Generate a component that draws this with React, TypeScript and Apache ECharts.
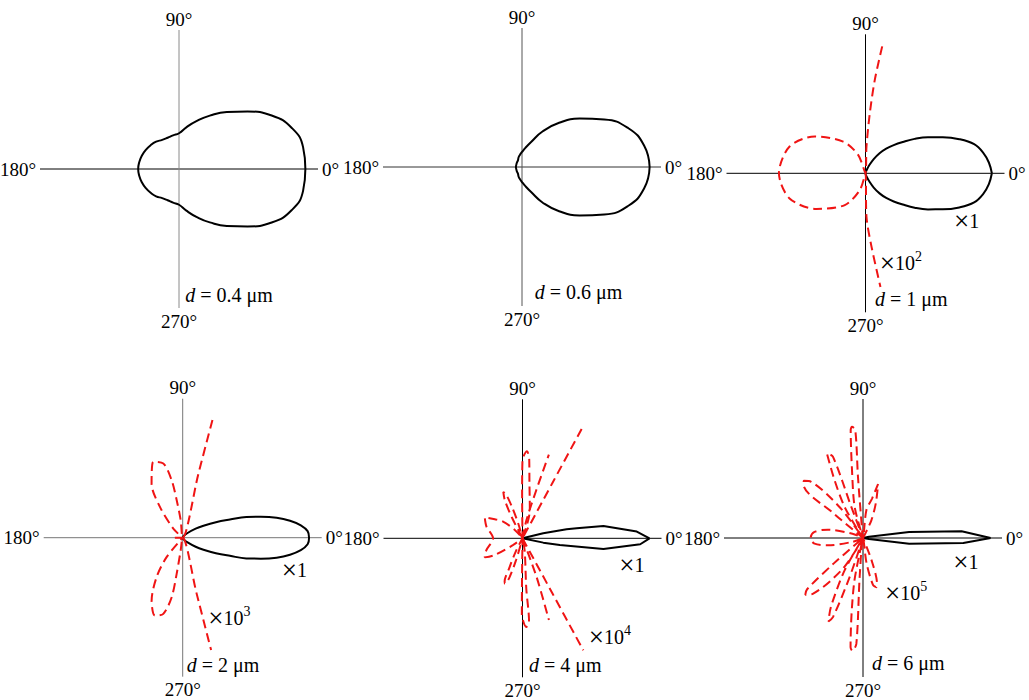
import React, { useEffect, useRef } from "react";
import * as echarts from "echarts";

const FONT = "Liberation Serif";

// ---------- text data ----------
const D_LABELS = ["0.4 μm", "0.6 μm", "1 μm", "2 μm", "4 μm", "6 μm"];
const RED_POWER = ["", "", "2", "3", "4", "5"];

// ---------- black (×1) patterns: upper half, mirrored about 0° ----------
const P1_ANG = [0, 10, 20, 30, 40, 50, 60, 70, 80, 90, 100, 110, 120, 130, 140, 150, 160, 170, 180];
const P1_R = [1.0, 0.997, 0.95, 0.847, 0.708, 0.589, 0.488, 0.403, 0.335, 0.283, 0.27, 0.263, 0.266, 0.282, 0.293, 0.303, 0.312, 0.319, 0.323];

const P2_ANG = [0, 10, 20, 30, 40, 50, 60, 70, 80, 90, 100, 110, 120, 135, 150, 165, 180];
const P2_R = [1.01, 0.981, 0.896, 0.752, 0.596, 0.457, 0.324, 0.211, 0.154, 0.119, 0.097, 0.08, 0.063, 0.055, 0.05, 0.048, 0.048];

const P3_ANG = [0, 5, 10, 15, 20, 25, 30, 35, 40, 45, 50, 55, 60, 65, 70, 80, 90];
const P3_R = [1.0, 0.98, 0.945, 0.89, 0.79, 0.675, 0.571, 0.475, 0.385, 0.316, 0.255, 0.194, 0.13, 0.07, 0.03, 0.005, 0];

const P4_ANG = [0, 3, 6, 9, 12, 15, 18, 21, 25, 30, 35, 45, 60, 90];
const P4_R = [1.0, 0.99, 0.94, 0.86, 0.76, 0.64, 0.53, 0.4, 0.29, 0.19, 0.125, 0.05, 0.015, 0];

// polygon-like black patterns (full outline, [radius, angle])
const P5_BLACK = [
  [1.005, 0], [0.906, 3.4], [0.648, 8.7], [0.436, 10.5], [0.356, 11.6], [0.169, 13.6], [0, 20],
  [0, 345], [0.168, 348.2], [0.3, 349.9], [0.646, 352.5], [0.933, 357.1], [1.005, 360],
];
const P6_BLACK = [
  [1.01, 0], [0.782, 3.9], [0.368, 7.4], [0.049, 12.5], [0, 20],
  [0, 345], [0.048, 350.5], [0.368, 353], [0.795, 357.1], [1.01, 360],
];

// ---------- red dashed (scaled) patterns: branches of [radius, angle] ----------
const P3_RED = [
  [
    [1.013, 82.5], [0.745, 84.3], [0.477, 85.9], [0.212, 87.9], [0, 90],
    [0.157, 111.8], [0.307, 125.2], [0.496, 144], [0.637, 160.6], [0.685, 180],
    [0.633, 198.3], [0.48, 216], [0.3, 236.9], [0.14, 251.2], [0, 270],
    [0.344, 271.3], [0.584, 274.7], [0.907, 277.5],
  ],
];

const P4_RED = [
  [
    [0.96, 75.8], [0.52, 76.2], [0, 77],
    [0.138, 96.6], [0.3, 99.1], [0.463, 100.9], [0.607, 104.6], [0.644, 111.2],
    [0.494, 119.9], [0.303, 126.5], [0.103, 136], [0, 150],
    [0.074, 180], [0, 210],
    [0.2, 230.4], [0.374, 236.5], [0.555, 243.7], [0.654, 250.4],
    [0.622, 255.7], [0.479, 259.5], [0.29, 260.5], [0.1, 261], [0, 262],
    [0.45, 284], [0.917, 284.2],
  ],
];

const P5_RED = [
  [
    [0.984, 61.6], [0.5, 61.6], [0, 62],
    [0.232, 75.5], [0.45, 83], [0.624, 85.1], [0.689, 87], [0.62, 90], [0.35, 90.5], [0, 91],
    [0.12, 106], [0.26, 108.5], [0.37, 110.5], [0.397, 112.5], [0.33, 115], [0.18, 117], [0, 122],
    [0.09, 132.6], [0.203, 139.2], [0.266, 145.5], [0.342, 151], [0.3, 162], [0.233, 180],
    [0.3, 198], [0.335, 206.8], [0.256, 211], [0.09, 215.5], [0, 225],
    [0.12, 243], [0.26, 246], [0.37, 247.5], [0.386, 249], [0.33, 251.5], [0.18, 253.5], [0, 257],
    [0, 268], [0.3, 269.3], [0.6, 269.5], [0.702, 272.5], [0.66, 274.5], [0.4, 274.3], [0.1, 280], [0, 285],
    [0.5, 298.5], [1.009, 298.5],
  ],
  [[0, 78], [0.15, 77.7], [0.4, 74], [0.694, 72.5]],
  [[0, 292], [0.324, 290], [0.68, 287.9]],
];

const P6_RED = [
  [
    [0, 62], [0.155, 64.7], [0.3, 70], [0.443, 74.4], [0.32, 77.1], [0.221, 83.1], [0, 88],
    [0.14, 95.4], [0.486, 94.7], [0.857, 94.1], [0.885, 95.7], [0.86, 96.5], [0.544, 99.2], [0.255, 105], [0, 108],
    [0.263, 110.6], [0.686, 110.3], [0.728, 113.1], [0.51, 116.2], [0.286, 120.6], [0.073, 123], [0, 125],
    [0.3, 127], [0.605, 132.7], [0.651, 136], [0.633, 138], [0.296, 140], [0, 145],
    [0.09, 158], [0.285, 166.6], [0.387, 172.9], [0.415, 180], [0.386, 186.7], [0.284, 191.8], [0.09, 200], [0, 212],
    [0.303, 221], [0.6, 222.5], [0.64, 224.5], [0.594, 228], [0.309, 236.2], [0.08, 241], [0, 239],
    [0.295, 240.4], [0.6, 245], [0.715, 247.5], [0.67, 249.2], [0.327, 251.1], [0, 255],
    [0.37, 258.9], [0.87, 263.5], [0.896, 264.6], [0.84, 266.4], [0.31, 265.1], [0, 268],
    [0.2, 278], [0.38, 282], [0.403, 285.2], [0.38, 287], [0.19, 291], [0, 295],
  ],
];

// ---------- layout / style ----------
const CENTERS = [
  [179, 169], [522, 167], [865.5, 173.3],
  [182.7, 537.7], [522.5, 538.3], [863, 538],
];
const RADIUS_PX = 139;
const R_MAX = 1.1;
const AXIS_COLORS = [
  ["#000", "#8a8a8a"], ["#333", "#555"], ["#000", "#000"],
  ["#777", "#777"], ["#000", "#000"], ["#000", "#000"],
];
const D_POS = [[185.3, 295], [534.7, 291.7], [875, 299], [186.7, 665], [529, 665], [872, 663]];
const X1_POS = [null, null, [955, 220.7], [282.7, 570], [620.3, 565], [954.3, 562.3]];
const XP_POS = [null, null, [880.7, 263], [209.3, 618.3], [589.7, 637.3], [886, 593.3]];

function mirrored(ang: number[], r: number[]) {
  const out: number[][] = ang.map((a, i) => [r[i], a]);
  for (let i = ang.length - 2; i >= 0; i--) out.push([r[i], 360 - ang[i]]);
  return out;
}
// polar reading [radius, angle°] -> cartesian [x, y] for the panel's value axes
function toXY(pts: number[][]) {
  return pts.map(([r, a]) => [r * Math.cos((a * Math.PI) / 180), r * Math.sin((a * Math.PI) / 180)]);
}

const BLACK = [
  { data: mirrored(P1_ANG, P1_R), smooth: 0.5 },
  { data: mirrored(P2_ANG, P2_R), smooth: 0.5 },
  { data: mirrored(P3_ANG, P3_R), smooth: 0.4 },
  { data: mirrored(P4_ANG, P4_R), smooth: 0.4 },
  { data: P5_BLACK, smooth: false },
  { data: P6_BLACK, smooth: false },
];
const RED = [[], [], P3_RED, P4_RED, P5_RED, P6_RED];

export default function App() {
  const ref = useRef<HTMLDivElement>(null);
  useEffect(() => {
    if (!ref.current) return;
    const chart = echarts.init(ref.current, undefined, { renderer: "svg" });
    const txt = { fontFamily: FONT, fontSize: 19, color: "#000" };

    // polar frames: the crossing axis lines and their angle labels
    const polar = CENTERS.map((c) => ({ center: [c[0], c[1]], radius: RADIUS_PX }));
    const angleAxis = CENTERS.map((_, i) => ({
      polarIndex: i,
      type: "value",
      min: 0,
      max: 360,
      interval: 90,
      startAngle: 0,
      clockwise: false,
      axisLine: { show: false },
      axisTick: { show: false },
      splitLine: { show: true, lineStyle: { color: AXIS_COLORS[i], width: 1 } },
      axisLabel: {
        margin: 4,
        formatter: (v: number) =>
          v === 90 ? `{top|${v}°}` : v === 270 ? `{bot|${v}°}` : `{mid|${v}°}`,
        rich: {
          top: { ...txt, lineHeight: 14 },
          bot: { ...txt, lineHeight: 18 },
          mid: { ...txt },
        },
      },
    }));
    const radiusAxis = CENTERS.map((_, i) => ({ polarIndex: i, min: 0, max: R_MAX, show: false }));

    // cartesian frames aligned on the polar ones, for smooth pattern curves
    const grid = CENTERS.map((c) => ({
      left: c[0] - RADIUS_PX,
      top: c[1] - RADIUS_PX,
      width: 2 * RADIUS_PX,
      height: 2 * RADIUS_PX,
      show: false,
    }));
    const xAxis = CENTERS.map((_, i) => ({ gridIndex: i, type: "value", min: -R_MAX, max: R_MAX, show: false }));
    const yAxis = CENTERS.map((_, i) => ({ gridIndex: i, type: "value", min: -R_MAX, max: R_MAX, show: false }));

    const series: any[] = [];
    BLACK.forEach((b, i) => {
      series.push({
        type: "line",
        xAxisIndex: i,
        yAxisIndex: i,
        data: toXY(b.data),
        smooth: b.smooth,
        symbol: "none",
        silent: true,
        clip: false,
        z: 3,
        lineStyle: { color: "#000", width: 2 },
      });
    });
    RED.forEach((branches, i) => {
      branches.forEach((br) => {
        series.push({
          type: "line",
          xAxisIndex: i,
          yAxisIndex: i,
          data: toXY(br),
          smooth: 0.3,
          symbol: "none",
          silent: true,
          clip: false,
          z: 4,
          lineStyle: { color: "#f01414", width: 2, type: [9, 5] },
        });
      });
    });

    const tokenBase = { fontFamily: FONT, fontSize: 20, fill: "#000", color: "#000" };
    const textStyle = (text: string) => ({
      text,
      fontFamily: FONT,
      fontSize: 20,
      fill: "#000",
      textAlign: "left",
      align: "left",
      textVerticalAlign: "middle",
      verticalAlign: "middle",
      rich: {
        i: { ...tokenBase, fontStyle: "italic" },
        n: { ...tokenBase },
        x: { ...tokenBase, fontSize: 27 },
        s: { fontFamily: FONT, fontSize: 14, fill: "#000", color: "#000", verticalAlign: "top", lineHeight: 14 },
      },
    });
    const elements: any[] = [];
    D_LABELS.forEach((lab, i) => {
      elements.push({
        type: "text",
        x: D_POS[i][0],
        y: D_POS[i][1],
        silent: true,
        style: textStyle(`{i|d}{n| = ${lab}}`),
      });
      if (X1_POS[i]) {
        elements.push({
          type: "text",
          x: X1_POS[i]![0] - 1,
          y: X1_POS[i]![1],
          silent: true,
          style: textStyle(`{x|×}{n|1}`),
        });
      }
      if (XP_POS[i]) {
        elements.push({
          type: "text",
          x: XP_POS[i]![0] - 1,
          y: XP_POS[i]![1],
          silent: true,
          style: textStyle(`{x|×}{n|10}{s|${RED_POWER[i]}}`),
        });
      }
    });

    chart.setOption({
      animation: false,
      backgroundColor: "#fff",
      polar,
      angleAxis,
      radiusAxis,
      grid,
      xAxis,
      yAxis,
      series,
      graphic: { elements },
    });
    return () => chart.dispose();
  }, []);
  return (
    <div
      ref={ref}
      style={{ position: "fixed", left: 0, top: 0, width: 1029, height: 700, background: "#fff" }}
    />
  );
}
